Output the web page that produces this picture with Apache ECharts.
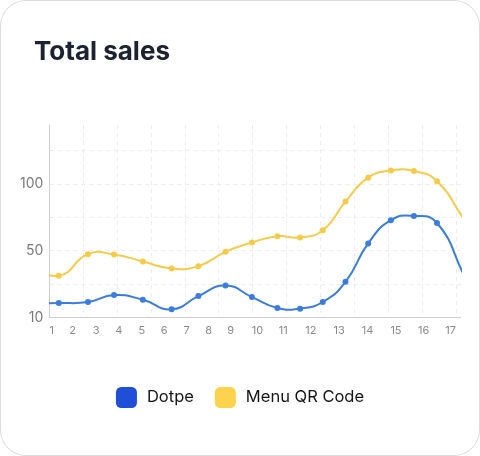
<!DOCTYPE html>
<html>
<head>
<meta charset="utf-8">
<script src="https://cdn.jsdelivr.net/npm/echarts@6/dist/echarts.min.js"></script>
<style>
  html, body { margin: 0; padding: 0; background: #ffffff; }
  #card { position: absolute; left: 0; top: 0; width: 478px; height: 454px; border: 1px solid #dcdcdc; border-radius: 26px; background: #fff; overflow: hidden; }
  #chart { width: 478px; height: 454px; }
</style>
</head>
<body>
<div id="card"><div id="chart"></div></div>
<script>
// ---- data (x in axis units, y in sales) ----
const seriesNames = ['Dotpe', 'Menu QR Code'];
const xPositions = [-0.57, 0.28, 1.14, 1.91, 2.76, 3.61, 4.40, 5.20, 5.98, 6.73, 7.40, 8.07, 8.74, 9.41, 10.08, 10.76, 11.44, 12.25];
const dotpeValues = [10.5, 10.8, 11.6, 16.8, 13.3, 6.1, 16.0, 24.0, 15.3, 7.1, 6.6, 11.6, 26.7, 55.4, 72.8, 76.0, 70.7, 31];
const menuQrValues = [41, 31.2, 47.4, 47.2, 41.9, 36.7, 38.4, 49.1, 56.1, 60.8, 59.9, 65.3, 86.7, 104.6, 109.9, 109.6, 101.9, 73];
const xTickLabels = ['1','2','3','4','5','6','7','8','9','10','11','12','13','14','15','16','17'];
const xTickValues = [0.07, 0.69, 1.38, 2.05, 2.73, 3.39, 4.05, 4.70, 5.35, 6.14, 6.90, 7.72, 8.55, 9.39, 10.23, 11.05, 11.84];
const yTickLabels = ['10', '50', '100'];
const yTickValues = [0, 50, 100];

const pair = (xs, ys) => xs.map((x, i) => [x, ys[i]]);

const chart = echarts.init(document.getElementById('chart'), null, { renderer: 'canvas' });
const font = 'Inter, "Noto Sans", sans-serif';
const blueLine = '#3a7ddc', yellowLine = '#f6cb4a';
const blueKey = '#1f4fd6', yellowKey = '#fdd34e';
const SMOOTH = 0.5;

// Cardinal-style smooth curve through the points (computed in pixel space via api.coord)
function curveSeries(name, values, color, z) {
  const pts = pair(xPositions, values);
  return {
    type: 'custom', name: name + ' (curve)', coordinateSystem: 'cartesian2d', clip: true, silent: true, z: z,
    data: pts.slice(0, -1),
    encode: { x: 0, y: 1 },
    renderItem: (params, api) => {
      const n = pts.length;
      const P = k => api.coord(pts[Math.max(0, Math.min(n - 1, k))]);
      const i = params.dataIndex;
      const ctrl = (k) => {
        const prev = P(k - 1), cur = P(k), next = P(k + 1);
        const vx = next[0] - prev[0], vy = next[1] - prev[1];
        const lp = Math.hypot(cur[0] - prev[0], cur[1] - prev[1]);
        const ln = Math.hypot(next[0] - cur[0], next[1] - cur[1]);
        const r = (lp + ln) > 0 ? ln / (lp + ln) : 0.5;
        return {
          out: [cur[0] + vx * SMOOTH * r, cur[1] + vy * SMOOTH * r],
          inn: [cur[0] - vx * SMOOTH * (1 - r), cur[1] - vy * SMOOTH * (1 - r)]
        };
      };
      const a = P(i), b = P(i + 1);
      const c1 = ctrl(i).out, c2 = ctrl(i + 1).inn;
      return {
        type: 'bezierCurve',
        shape: { x1: a[0], y1: a[1], x2: b[0], y2: b[1], cpx1: c1[0], cpy1: c1[1], cpx2: c2[0], cpy2: c2[1] },
        style: { stroke: color, lineWidth: 2, fill: null, lineCap: 'round' }
      };
    }
  };
}

function pointSeries(name, values, color, z) {
  return {
    name: name, type: 'line', clip: true, z: z,
    data: pair(xPositions, values),
    symbol: 'circle', symbolSize: 6, showSymbol: true,
    lineStyle: { color: color, width: 2, opacity: 0 },
    itemStyle: { color: color }
  };
}

chart.setOption({
  animation: false,
  textStyle: { fontFamily: font },
  title: {
    text: 'Total sales',
    left: 33, top: 38, padding: 0,
    textStyle: { fontFamily: font, fontSize: 26, fontWeight: 700, color: '#1c2230' }
  },
  grid: { left: 48.3, right: 18.3, top: 124, bottom: 137.5, containLabel: false },
  xAxis: {
    type: 'value', min: 0, max: 12.14, interval: 1,
    axisLine: { show: true, lineStyle: { color: '#cfcfcf', width: 1 } },
    axisTick: { show: false },
    axisLabel: {
      customValues: xTickValues,
      margin: 8,
      fontSize: 11, color: '#8a8a8a', fontFamily: font,
      formatter: (v) => { const i = xTickValues.findIndex(t => Math.abs(t - v) < 1e-6); return i >= 0 ? xTickLabels[i] : ''; }
    },
    splitLine: { show: true, showMinLine: false, showMaxLine: false, lineStyle: { color: '#ececec', type: [4, 4], width: 1 } }
  },
  yAxis: {
    type: 'value', min: 0, max: 144, interval: 25,
    axisLine: { show: true, lineStyle: { color: '#cfcfcf', width: 1 } },
    axisTick: { show: false },
    axisLabel: {
      customValues: yTickValues,
      margin: 6,
      fontSize: 14, color: '#7a7a7a', fontFamily: font,
      formatter: (v) => { const i = yTickValues.findIndex(t => Math.abs(t - v) < 1e-6); return i >= 0 ? yTickLabels[i] : ''; }
    },
    splitLine: { show: true, showMinLine: false, showMaxLine: false, lineStyle: { color: '#ececec', type: [4, 4], width: 1 } }
  },
  legend: {
    bottom: 47, left: 'center',
    padding: 0,
    icon: 'roundRect',
    itemWidth: 21, itemHeight: 21, itemGap: 21,
    formatter: '{t|{name}}',
    textStyle: {
      fontFamily: font, fontSize: 16.5, color: '#151515',
      rich: { t: { fontFamily: font, fontSize: 16.5, color: '#151515', padding: [0, 0, 0, 5] } }
    },
    data: [
      { name: seriesNames[0], itemStyle: { color: blueKey } },
      { name: seriesNames[1], itemStyle: { color: yellowKey } }
    ]
  },
  series: [
    curveSeries(seriesNames[0], dotpeValues, blueLine, 3),
    curveSeries(seriesNames[1], menuQrValues, yellowLine, 2),
    pointSeries(seriesNames[0], dotpeValues, blueLine, 5),
    pointSeries(seriesNames[1], menuQrValues, yellowLine, 4)
  ]
});
</script>
</body>
</html>
